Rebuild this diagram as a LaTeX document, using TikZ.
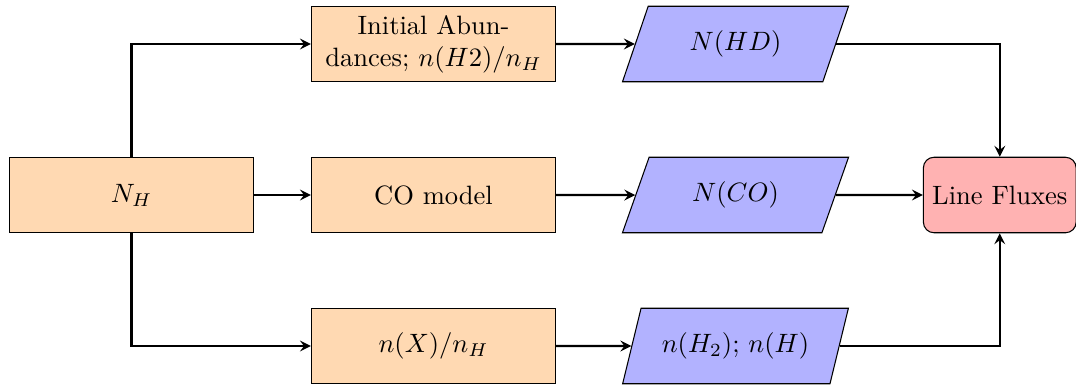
\documentclass[tikz,border=0pt]{standalone}
\usepackage{amsmath}
\usetikzlibrary{shapes.geometric}

\begin{document}
\begin{tikzpicture}[>=stealth]

%
% Styles
%
\tikzstyle{block}  = [rectangle,draw,fill=orange!30,text width=3cm,align=center,minimum height=1cm]
\tikzstyle{data}   = [trapezium,trapezium left angle=70,trapezium right angle=110,trapezium stretches=true,draw,fill=blue!30,minimum width=3cm,minimum height=1cm,text centered]
\tikzstyle{result} = [rectangle,rounded corners,draw,fill=red!30,minimum height=1cm,text centered]
\tikzstyle{link}   = [->,thick]

\useasboundingbox (-1.742,-2.556) rectangle (12.51,2.583);

\node[block]  (nh)    at (   0, 0)  {$N_H$};
\node[block]  (init)  at (   4, 2)  {Initial Abundances; $n(H2)/n_H$};
\node[block]  (co)    at (   4, 0)  {CO model};
\node[block]  (abund) at (   4,-2)  {$n(X)/n_H$};
\node[data]   (hd)    at (   8, 2)  {$N(HD)$};
\node[data]   (nco)   at (   8, 0)  {$N(CO)$};
\node[data]   (h2)    at (   8,-2)  {$n(H_2)$; $n(H)$};
\node[result] (flux)  at (11.5, 0)  {Line Fluxes};

\draw[link] (nh)    |- (init);
\draw[link] (nh)    -- (co);
\draw[link] (nh)    |- (abund);
\draw[link] (init)  -- (hd);
\draw[link] (co)    -- (nco);
\draw[link] (abund) -- (h2);
\draw[link] (hd)    -| (flux);
\draw[link] (nco)   -- (flux);
\draw[link] (h2)    -| (flux);

\end{tikzpicture}
\end{document}
